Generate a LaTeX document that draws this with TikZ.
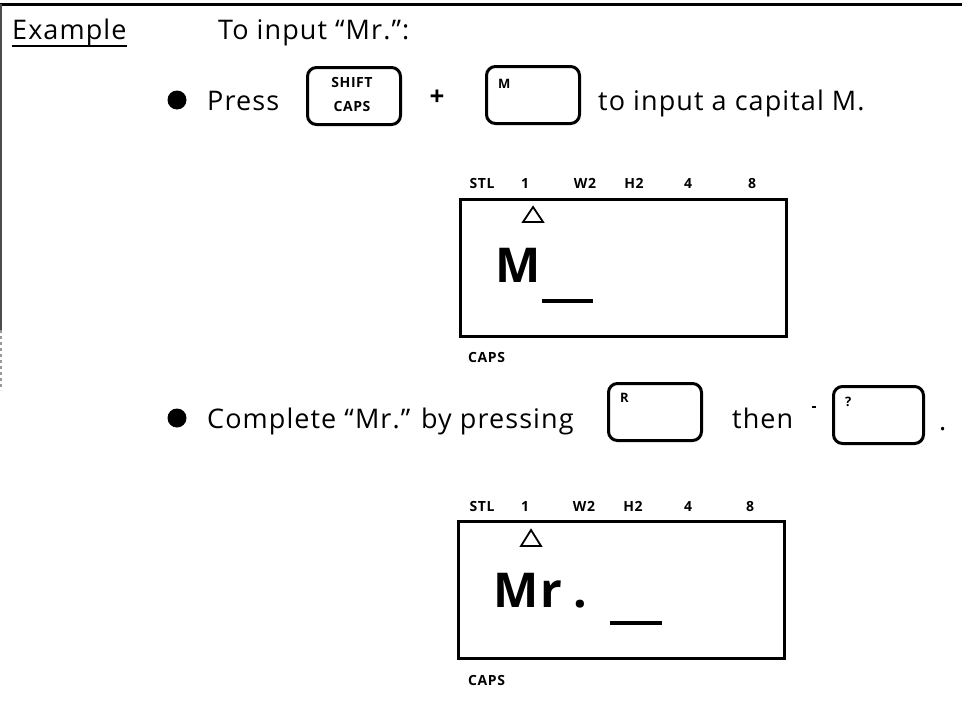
\documentclass[tikz,border=0pt]{standalone}
\usepackage{fontspec}
\setmainfont{Open Sans}[LetterSpace=4]
\begin{document}
\begin{tikzpicture}[x=1pt,y=-1pt,
  txt/.style={inner sep=0pt, anchor=base west, font=\fontsize{27}{32}\selectfont},
  keybox/.style={draw, line width=3pt, rounded corners=9pt, minimum width=93pt, minimum height=57pt, inner sep=0pt, anchor=north west},
  keylbl/.style={inner sep=0pt, anchor=base west, font=\fontsize{13}{15}\selectfont\bfseries},
  lcdbox/.style={draw, line width=3pt, minimum width=326pt, minimum height=137pt, inner sep=0pt, anchor=north west},
  lcdlbl/.style={inner sep=0pt, anchor=base, font=\fontsize{14}{16}\selectfont\bfseries},
  bigchar/.style={inner sep=0pt, anchor=base west, font=\fontsize{48}{52}\selectfont\bfseries},
  bul/.style={circle, fill=black, minimum size=19pt, inner sep=0pt},
  cursor/.style={line width=4pt},
  tri/.style={line width=1.8pt, line join=miter}
]
\useasboundingbox (0,0) rectangle (962,712);
% frame
\draw[line width=3pt] (0,4) -- (962,4);
\draw[line width=2pt, black!70] (1,4) -- (1,330);
\draw[line width=1.5pt, black!40, dash pattern=on 3pt off 3pt] (1,330) -- (1,390);

% heading
\node[txt] (ex) at (12,39) {Example};
\draw[line width=2pt] ([yshift=-7pt]ex.base west) -- ([yshift=-7pt]ex.base east);
\node[txt] (to) at (218,39) {To input “Mr.”:};

% row 1
\node[bul] (b1) at (177,100) {};
\node[txt] (press) at (207,110) {Press};
\node[keybox] (kshift) at (306,66) {};
\node[inner sep=0pt, anchor=base, font=\fontsize{14}{16}\selectfont\bfseries] (lshift) at (352,87) {SHIFT};
\node[inner sep=0pt, anchor=base, font=\fontsize{14}{16}\selectfont\bfseries] (lcaps) at (352,111) {CAPS};
\node[inner sep=0pt, anchor=base, font=\fontsize{26}{30}\selectfont\bfseries] (plus) at (437,105) {+};
\node[keybox] (km) at (485,65) {};
\node[keylbl] (lm) at (498,88) {M};
\node[txt] (t1) at (598,110) {to input a capital M.};

% LCD 1
\node[lcdbox] (lcd1) at (459,198) {};
\foreach \x/\t in {482/STL,525/1,585/W2,634/H2,688/4,752/8}
  \node[lcdlbl] at (\x,188) {\t};
\draw[tri] (523,222) -- (543,222) -- (533,207) -- cycle;
\node[bigchar] (m1) at (495,282) {M};
\draw[cursor] (542,301) -- (593,301);
\node[lcdlbl, anchor=base west] (caps1) at (468,362) {CAPS};

% row 2
\node[bul] (b2) at (177,418) {};
\node[txt] (t2) at (207,428) {Complete “Mr.” by pressing};
\node[keybox] (kr) at (607,382) {};
\node[keylbl] (lr) at (620,402) {R};
\node[txt] (then) at (732,428) {then};
\draw[line width=1.5pt] (812,407) -- (816,407);
\node[keybox, minimum width=90pt] (kq) at (832,385) {};
\node[keylbl] (lq) at (845,406) {?};
\node[txt] (dot) at (939,430) {.};

% LCD 2
\node[lcdbox] (lcd2) at (457,520) {};
\foreach \x/\t in {482/STL,525/1,584/W2,633/H2,688/4,750/8}
  \node[lcdlbl] at (\x,511) {\t};
\draw[tri] (521,546) -- (541,546) -- (531,530) -- cycle;
\node[bigchar] (m2) at (493,607) {Mr};
\node[bigchar] (d2) at (573,607) {.};
\draw[cursor] (610,623) -- (662,623);
\node[lcdlbl, anchor=base west] (caps2) at (468,685) {CAPS};
\end{tikzpicture}
\end{document}
